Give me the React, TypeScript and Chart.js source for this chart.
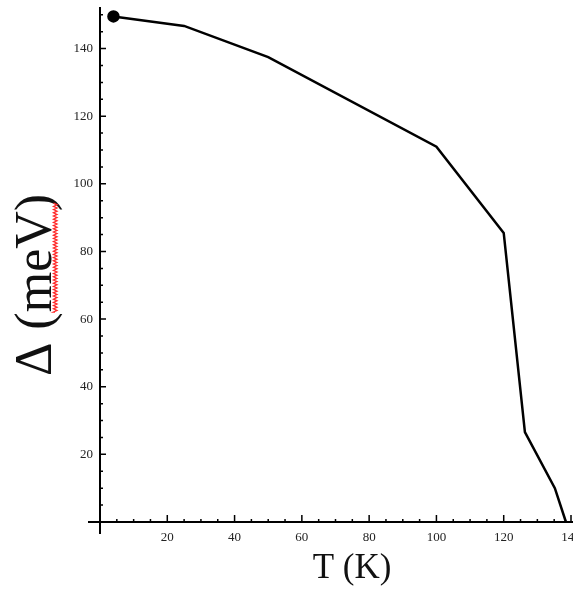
import { useEffect, useRef } from 'react';
import { Chart, registerables } from 'chart.js';

Chart.register(...registerables);

// Data
const temperatureK = [4, 25, 50, 100, 120, 126.3, 135.2, 138.5];
const gapMeV = [149.5, 146.7, 137.5, 111, 85.5, 26.6, 10, 0];

const xTickLabels = [20, 40, 60, 80, 100, 120, 140];
const yTickLabels = [20, 40, 60, 80, 100, 120, 140];

const X_MIN = 0;
const X_MAX = 140;
const Y_MIN = 0;
const Y_MAX = 152;
const MINOR_STEP = 5;
const MAJOR_STEP = 20;

const xTitle = 'T (K)';
const yTitle = 'Δ (meV)';

const axesPlugin = {
  id: 'mathematicaAxes',
  afterDraw(chart: any) {
    const { ctx, scales } = chart;
    const xs = scales.x;
    const ys = scales.y;
    const x0 = xs.getPixelForValue(X_MIN);
    const y0 = ys.getPixelForValue(Y_MIN);
    const yTop = ys.getPixelForValue(Y_MAX);
    ctx.save();
    ctx.strokeStyle = '#000';
    ctx.lineWidth = 2;
    ctx.beginPath();
    ctx.moveTo(x0 - 12, y0);
    ctx.lineTo(chart.width, y0);
    ctx.moveTo(x0, y0 + 12);
    ctx.lineTo(x0, yTop - 1);
    ctx.stroke();

    ctx.lineWidth = 1.5;
    ctx.beginPath();
    for (let v = X_MIN + MINOR_STEP; v <= X_MAX; v += MINOR_STEP) {
      const px = xs.getPixelForValue(v);
      const len = v % MAJOR_STEP === 0 ? 7 : 3;
      ctx.moveTo(px, y0);
      ctx.lineTo(px, y0 - len);
    }
    for (let v = Y_MIN + MINOR_STEP; v < Y_MAX; v += MINOR_STEP) {
      const py = ys.getPixelForValue(v);
      const len = v % MAJOR_STEP === 0 ? 6 : 3;
      ctx.moveTo(x0, py);
      ctx.lineTo(x0 + len, py);
    }
    ctx.stroke();

    // Axis titles
    ctx.fillStyle = '#111';
    ctx.textAlign = 'center';
    ctx.textBaseline = 'alphabetic';
    ctx.font = '35px "Liberation Serif", "Times New Roman", serif';
    ctx.fillText(xTitle, 352, 578);

    ctx.translate(51, 285);
    ctx.rotate(-Math.PI / 2);
    ctx.font = '52px "Liberation Serif", "Times New Roman", serif';
    ctx.fillText(yTitle, 0, 0);

    // spell-check squiggle under "meV"
    ctx.strokeStyle = '#ff2a2a';
    ctx.lineWidth = 1.3;
    ctx.beginPath();
    let up = true;
    ctx.moveTo(-27, 4);
    for (let lx = -27; lx <= 82; lx += 1.6) {
      ctx.lineTo(lx, up ? 2.5 : 6);
      up = !up;
    }
    ctx.stroke();
    ctx.restore();
  },
};

export default function App() {
  const canvasRef = useRef<HTMLCanvasElement | null>(null);

  useEffect(() => {
    document.body.style.margin = '0';
    const canvas = canvasRef.current;
    if (!canvas) return;
    const tickFont = { family: '"Liberation Serif", "Times New Roman", serif', size: 13 };
    const chart = new Chart(canvas, {
      type: 'line',
      data: {
        datasets: [
          {
            data: temperatureK.map((t, i) => ({ x: t, y: gapMeV[i] })),
            borderColor: '#000',
            borderWidth: 2.5,
            backgroundColor: '#000',
            pointBackgroundColor: '#000',
            pointBorderColor: '#000',
            pointRadius: (c: any) => (c.dataIndex === 0 ? 5 : 0),
            pointHoverRadius: 0,
            tension: 0,
            fill: false,
            clip: false,
          },
        ],
      },
      options: {
        animation: false,
        responsive: true,
        maintainAspectRatio: false,
        layout: { autoPadding: false, padding: { top: 8, right: 2, left: 0, bottom: 0 } },
        plugins: {
          legend: { display: false },
          tooltip: { enabled: false },
        },
        scales: {
          x: {
            type: 'linear',
            min: X_MIN,
            max: X_MAX,
            grid: { display: false, drawTicks: false },
            border: { display: false },
            ticks: {
              font: tickFont,
              color: '#222',
              padding: 8,
              maxRotation: 0,
              autoSkip: false,
            },
            afterBuildTicks: (axis: any) => {
              axis.ticks = xTickLabels.map((v) => ({ value: v }));
            },
            afterFit: (s: any) => {
              s.height = 69;
              s.paddingLeft = 0;
              s.paddingRight = 0;
            },
          },
          y: {
            type: 'linear',
            min: Y_MIN,
            max: Y_MAX,
            grid: { display: false, drawTicks: false },
            border: { display: false },
            ticks: {
              font: tickFont,
              color: '#222',
              padding: 7,
              autoSkip: false,
            },
            afterBuildTicks: (axis: any) => {
              axis.ticks = yTickLabels.map((v) => ({ value: v }));
            },
            afterFit: (s: any) => {
              s.width = 100;
              s.paddingTop = 0;
              s.paddingBottom = 0;
            },
          },
        },
      },
      plugins: [axesPlugin],
    } as any);
    return () => chart.destroy();
  }, []);

  return (
    <div style={{ width: 573, height: 591, position: 'relative', background: '#fff' }}>
      <canvas ref={canvasRef} />
    </div>
  );
}
